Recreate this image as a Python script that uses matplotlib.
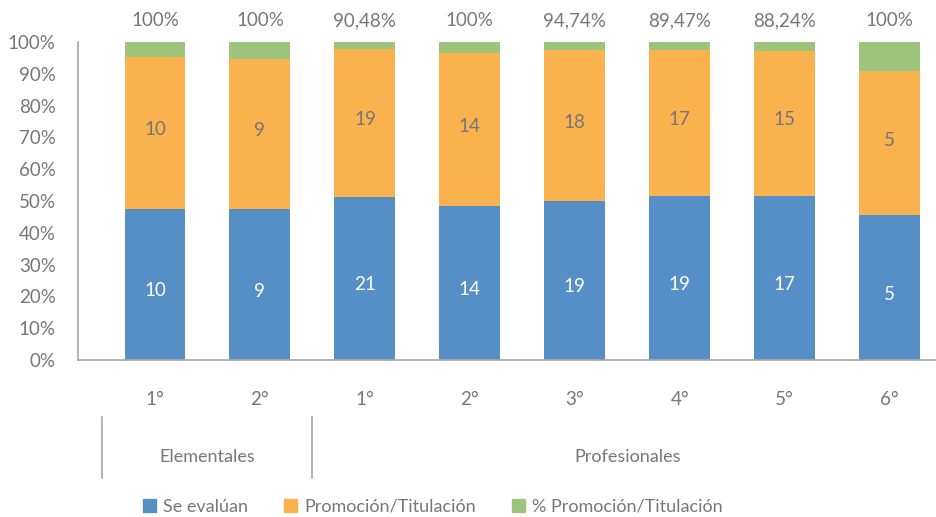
import matplotlib
matplotlib.use("Agg")
import matplotlib.pyplot as plt
import numpy as np
from matplotlib.patches import Patch

plt.rcParams['font.family'] = ['Lato', 'DejaVu Sans']

cursos = ["1°", "2°", "1°", "2°", "3°", "4°", "5°", "6°"]
grupos = ["Elementales", "Profesionales"]
grupo_tam = [2, 6]
se_evaluan = [10, 9, 21, 14, 19, 19, 17, 5]
promocion = [10, 9, 19, 14, 18, 17, 15, 5]
pct_promocion = [1.0, 1.0, 0.9048, 1.0, 0.9474, 0.8947, 0.8824, 1.0]
pct_labels = ["100%", "100%", "90,48%", "100%", "94,74%", "89,47%", "88,24%", "100%"]

c_blue = "#558FC6"
c_orange = "#FAB24E"
c_green = "#9DC47A"
txt = "#777777"
axc = "#A6A6A6"

se = np.array(se_evaluan, float)
pr = np.array(promocion, float)
pc = np.array(pct_promocion, float)
tot = se + pr + pc
s1 = se / tot * 100
s2 = pr / tot * 100
s3 = pc / tot * 100

fig = plt.figure(figsize=(9.37, 5.17), dpi=100)
ax = fig.add_axes([78/937, 1-360/517, (937-78)/937, (360-42)/517])
x = np.arange(len(cursos))
w = 0.58
ax.bar(x, s1, w, color=c_blue)
ax.bar(x, s2, w, bottom=s1, color=c_orange)
ax.bar(x, s3, w, bottom=s1+s2, color=c_green)

for i in range(len(x)):
    ax.text(x[i], s1[i]/2 - 2, str(se_evaluan[i]), ha='center', va='center', color='white', fontsize=13.5)
    ax.text(x[i], s1[i] + s2[i]/2 + 1, str(promocion[i]), ha='center', va='center', color=txt, fontsize=13.5)
    ax.text(x[i], 104, pct_labels[i], ha='center', va='bottom', color=txt, fontsize=13.5, clip_on=False)

ax.set_xlim(-0.733, 7.45)
ax.set_ylim(0, 100)
ax.set_yticks(np.arange(0, 101, 10))
ax.set_yticklabels([f"{v}%" for v in range(0, 101, 10)])
ax.tick_params(axis='y', length=0, labelsize=13.5, labelcolor=txt, pad=16)
ax.set_xticks(x)
ax.set_xticklabels(cursos)
ax.tick_params(axis='x', length=0, labelsize=13.5, labelcolor=txt, pad=22)
for s in ['top', 'right']:
    ax.spines[s].set_visible(False)
ax.spines['left'].set_color(axc)
ax.spines['bottom'].set_color(axc)
ax.spines['left'].set_linewidth(1.2)
ax.spines['bottom'].set_linewidth(1.2)

# group separators and labels
trans = ax.get_xaxis_transform()
start = -0.5
bounds = [start]
for n in grupo_tam:
    bounds.append(bounds[-1] + n)
for b in bounds[:-1]:
    ax.plot([b, b], [-0.18, -0.37], transform=trans, color=axc, lw=1.2, clip_on=False)
for g, a, b in zip(grupos, bounds[:-1], bounds[1:]):
    ax.text((a + b) / 2, -0.305, g, transform=trans, ha='center', va='center', color=txt, fontsize=13)

handles = [Patch(color=c_blue, label="Se evalúan"),
           Patch(color=c_orange, label="Promoción/Titulación"),
           Patch(color=c_green, label="% Promoción/Titulación")]
leg = fig.legend(handles=handles, loc='center', bbox_to_anchor=(433/937, 1-507/517), ncol=3,
                 frameon=False, fontsize=13, handlelength=0.7, handleheight=0.7,
                 handletextpad=0.4, columnspacing=2.0)
for t in leg.get_texts():
    t.set_color(txt)

fig.savefig("out.png", dpi=100)
